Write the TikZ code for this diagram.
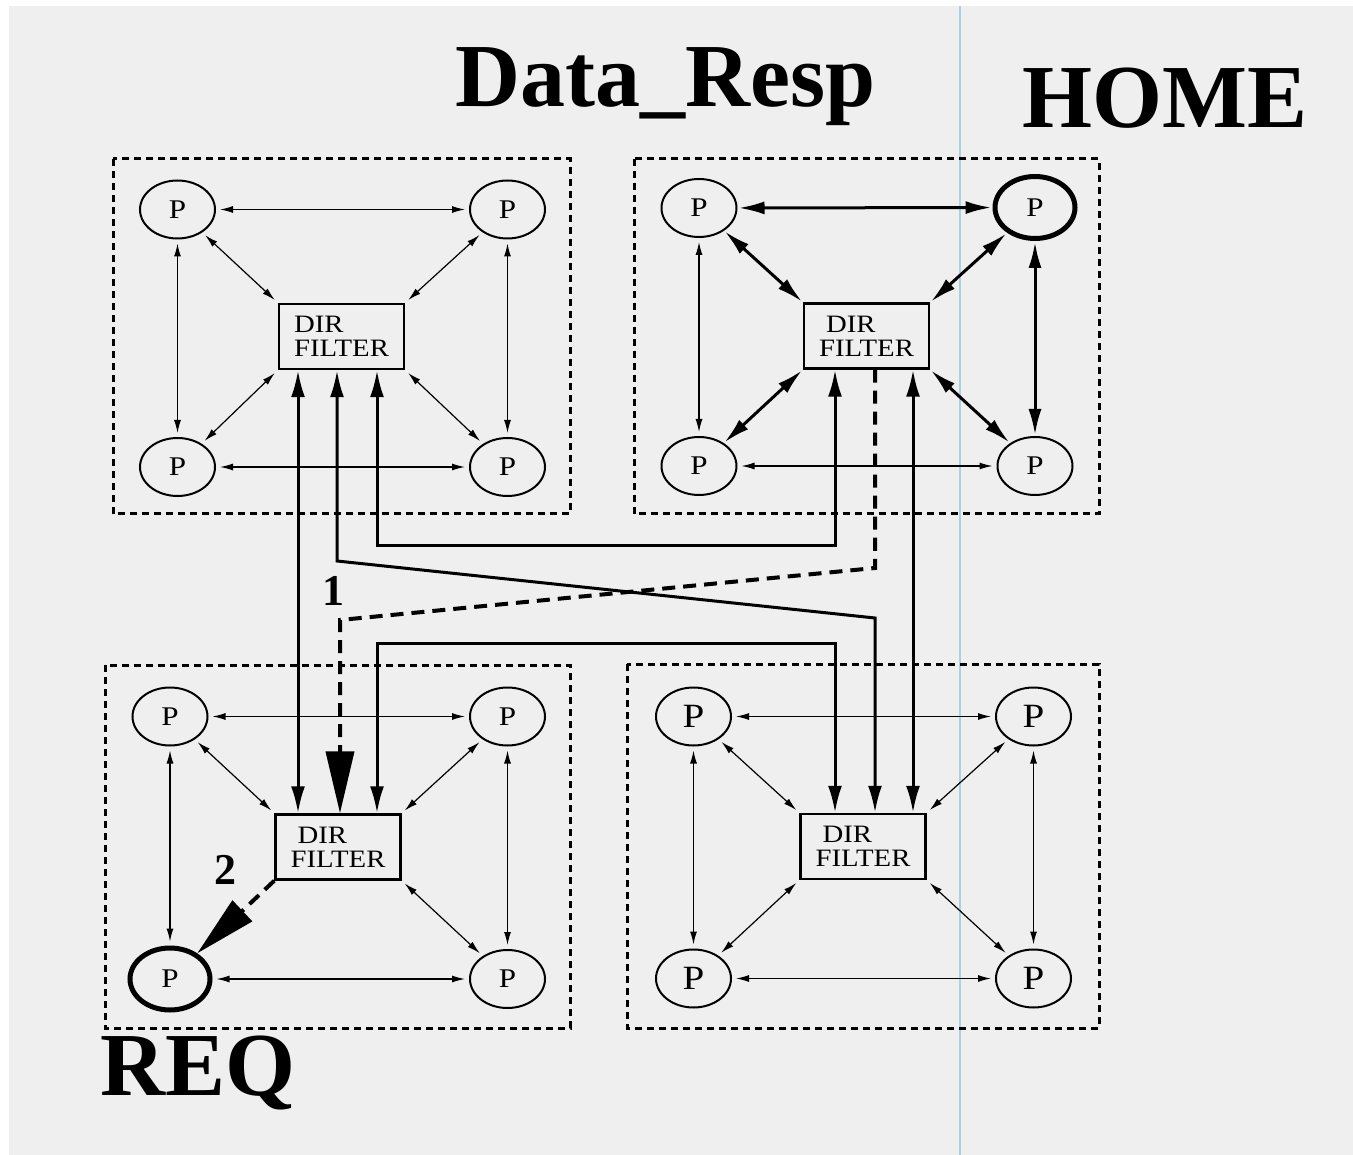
\documentclass[tikz,border=0pt]{standalone}
\usepackage{fontspec}
\setmainfont{Liberation Serif}
\newfontfamily\wideserif[FakeStretch=1.15]{Liberation Serif}
\usetikzlibrary{arrows.meta,shapes.geometric}
\definecolor{bggray}{RGB}{239,239,239}
\definecolor{scanblue}{RGB}{170,210,222}
\begin{document}
\begin{tikzpicture}[x=1pt,y=-1pt,
  pnode/.style={ellipse,draw,line width=2pt,minimum width=75pt,minimum height=58pt,inner sep=0pt,font=\wideserif\fontsize{27}{27}\selectfont},
  pbig/.style={pnode,font=\wideserif\fontsize{34}{34}\selectfont},
  phome/.style={pnode,line width=5pt,minimum width=80pt,minimum height=62pt},
  dirbox/.style={rectangle,draw,line width=2.5pt,minimum width=125pt,minimum height=65pt,inner sep=0pt,align=left,font=\wideserif\fontsize{25}{24}\selectfont},
  cluster/.style={draw,line width=3pt,dash pattern=on 7pt off 5pt},
  thinarr/.style={line width=1.2pt,{Latex[length=13pt,width=7pt]}-{Latex[length=13pt,width=7pt]},shorten <=4pt,shorten >=4pt},
  thickarr/.style={line width=3pt,{Latex[length=26pt,width=13pt]}-{Latex[length=26pt,width=13pt]},shorten <=1pt,shorten >=1pt},
  busarr/.style={line width=3pt,{Latex[length=27pt,width=14pt]}-{Latex[length=27pt,width=14pt]}},
  msgarr/.style={line width=4pt,dash pattern=on 13pt off 8pt,-{Triangle[length=62pt,width=28pt]}},
  title/.style={font=\fontsize{90}{90}\selectfont\bfseries,inner sep=0pt,anchor=base west},
  steplabel/.style={font=\fontsize{44}{44}\selectfont\bfseries,inner sep=0pt}
]
\useasboundingbox (0,0) rectangle (1353,1155);
\fill[bggray] (9,6) rectangle (1353,1155);
\draw[scanblue,line width=1.5pt] (960,6) -- (960,1155);

% cluster frames
\draw[cluster] (113,159) rectangle (570,514);
\draw[cluster] (634,159) rectangle (1099,514);
\draw[cluster] (105,665) rectangle (570,1028);
\draw[cluster] (627,664) rectangle (1099,1028);

% top-left cluster
\node[pnode] (a1) at (177.5,209.5) {P};
\node[pnode] (a2) at (507.5,209.5) {P};
\node[pnode] (a3) at (177.5,467) {P};
\node[pnode] (a4) at (507.5,467) {P};
\node[dirbox] (aD) at (341.5,336.5) {DIR\\FILTER};

% top-right cluster (HOME)
\node[pnode] (b1) at (699,208) {P};
\node[phome] (b2) at (1035,207.5) {P};
\node[pnode] (b3) at (699,466) {P};
\node[pnode] (b4) at (1035,466) {P};
\node[dirbox] (bD) at (866.5,336) {\hspace*{7pt}DIR\\FILTER};

% bottom-left cluster (REQ)
\node[pnode] (c1) at (170,716.5) {P};
\node[pnode] (c2) at (507.5,716.5) {P};
\node[phome] (c3) at (170,979) {P};
\node[pnode] (c4) at (507.5,979) {P};
\node[dirbox] (cD) at (338,847) {\hspace*{7pt}DIR\\FILTER};

% bottom-right cluster
\node[pbig] (d1) at (693.5,716.5) {P};
\node[pbig] (d2) at (1033.5,716.5) {P};
\node[pbig] (d3) at (693.5,978.5) {P};
\node[pbig] (d4) at (1033.5,978.5) {P};
\node[dirbox] (dD) at (863,846.5) {\hspace*{7pt}DIR\\FILTER};

% intra-cluster links
\foreach \k in {a,c,d} {
  \draw[thinarr] (\k1) -- (\k2);
  \draw[thinarr] (\k1) -- (\k3);
  \draw[thinarr] (\k2) -- (\k4);
  \draw[thinarr] (\k3) -- (\k4);
  \draw[thinarr] (\k1) -- (\k D.north west);
  \draw[thinarr] (\k2) -- (\k D.north east);
  \draw[thinarr] (\k4) -- (\k D.south east);
}
\draw[thinarr] (a3) -- (aD.south west);
\draw[thinarr] (d3) -- (dD.south west);
\draw[thinarr] (b1) -- (b3);
\draw[thinarr] (b3) -- (b4);
\draw[thickarr] (b1) -- (b2);
\draw[thickarr] (b2) -- (b4);
\draw[thickarr] (b1) -- (bD.north west);
\draw[thickarr] (b2) -- (bD.north east);
\draw[thickarr] (b3) -- (bD.south west);
\draw[thickarr] (b4) -- (bD.south east);

% inter-cluster buses
\coordinate (v1) at (298,600);
\draw[busarr] (aD.south -| v1) -- (cD.north -| v1);
\coordinate (k1) at (337,561);
\coordinate (k2) at (875,618);
\draw[busarr] (aD.south -| k1) -- (k1) -- (k2) -- (dD.north -| k2);
\coordinate (k3) at (377,545);
\coordinate (k4) at (835,545);
\draw[busarr] (aD.south -| k3) -- (k3) -- (k4) -- (bD.south -| k4);
\coordinate (k5) at (377,643);
\coordinate (k6) at (835,643);
\draw[busarr] (cD.north -| k5) -- (k5) -- (k6) -- (dD.north -| k6);
\coordinate (k7) at (913,600);
\draw[busarr] (bD.south -| k7) -- (dD.north -| k7);

% message path
\coordinate (k8) at (875,568);
\coordinate (k9) at (340,620);
\draw[msgarr] (bD.south -| k8) -- (k8) -- (k9) -- (cD.north -| k9);
\draw[msgarr] (cD.south west) -- (c3);

\node[steplabel] (lab1) at (333,591) {1};
\node[steplabel] (lab2) at (225,870) {2};

% titles
\node[title] (tdata) at (455,107) {Data\_Resp};
\node[title] (thome) at (1022,128) {HOME};
\node[title] (treq) at (100,1095) {REQ};
\end{tikzpicture}
\end{document}
